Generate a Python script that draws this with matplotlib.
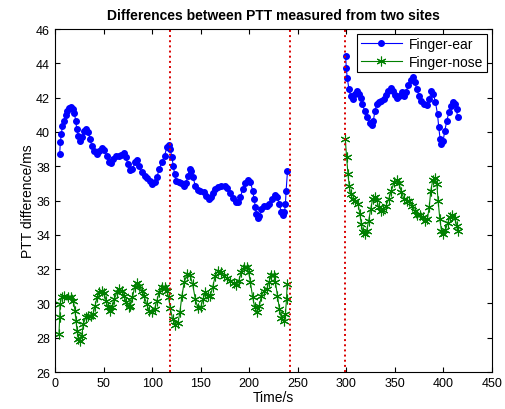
import numpy as np
import matplotlib
matplotlib.use('Agg')
import matplotlib.pyplot as plt

plt.rcParams['font.family'] = ['Liberation Sans', 'DejaVu Sans']

# Finger-ear, first recording (before the gap)
ear_t1 = [4.8, 5.5, 6.5, 7.6, 9.3, 11.0, 12.7, 14.8, 16.5, 18.2, 20.0, 21.3, 22.4, 24.0, 26.0,
          28.2, 30.3, 32.3, 34.4, 36.1, 37.8, 40.6, 43.0, 45.4, 48.2, 50.9, 53.3, 55.7, 57.8,
          60.2, 62.6, 65.4, 68.1, 70.9, 72.9, 75.0, 77.7, 79.8, 82.6, 84.6, 86.7, 89.4, 92.2,
          94.9, 97.7, 100.4, 102.5, 104.9, 107.3, 110.1, 112.8, 115.2, 117.0, 118.7, 120.4,
          121.8, 123.1, 124.5, 127.3, 130.0, 132.8, 134.8, 136.9, 138.6, 140.3, 142.1, 144.5,
          146.9, 149.6, 153.1, 155.5, 158.2, 160.6, 162.7, 165.1, 167.9, 171.3, 174.7, 177.5,
          180.6, 183.3, 186.4, 188.5, 190.9, 193.3, 196.1, 198.8, 201.2, 203.6, 205.0, 206.4,
          207.4, 208.8, 210.5, 212.6, 215.3, 218.4, 220.8, 223.6, 226.3, 228.7, 231.1, 232.9,
          234.6, 236.3, 237.3, 238.0, 239.4]
ear_v1 = [38.71, 39.39, 39.88, 40.32, 40.66, 41.00, 41.24, 41.39, 41.43, 41.34, 41.08, 40.66,
          40.17, 39.78, 39.49, 39.68, 40.07, 40.17, 39.97, 39.59, 39.20, 38.87, 38.71, 38.87,
          39.06, 38.94, 38.61, 38.23, 38.17, 38.42, 38.58, 38.61, 38.67, 38.75, 38.52, 38.13,
          37.78, 37.84, 38.23, 38.36, 38.03, 37.64, 37.45, 37.31, 37.12, 36.96, 37.06, 37.35,
          37.84, 38.23, 38.61, 39.10, 39.26, 39.00, 38.52, 38.03, 37.55, 37.16, 37.06, 37.02,
          36.87, 37.00, 37.45, 37.84, 37.74, 37.35, 36.87, 36.61, 36.54, 36.48, 36.28, 36.09,
          36.19, 36.42, 36.67, 36.81, 36.87, 36.87, 36.73, 36.42, 36.15, 35.90, 35.90, 36.19,
          36.67, 37.00, 37.20, 37.06, 36.58, 36.09, 35.60, 35.22, 34.98, 35.12, 35.51, 35.70,
          35.70, 35.80, 36.09, 36.34, 36.23, 35.80, 35.31, 35.18, 35.31, 35.80, 36.58, 37.70]

# Finger-ear, second recording
ear_t2 = [299.3, 300.0, 301.0, 302.7, 304.4, 306.5, 308.5, 310.6, 312.7, 314.7, 316.5, 318.9,
          321.6, 324.4, 326.1, 327.8, 329.5, 331.3, 333.7, 336.1, 338.8, 340.9, 343.0, 345.7,
          348.1, 350.2, 352.6, 354.6, 357.1, 359.5, 361.5, 363.9, 366.3, 368.4, 370.5, 372.5,
          375.0, 377.3, 380.1, 382.8, 385.3, 387.7, 389.7, 391.8, 393.9, 395.2, 396.6, 398.0,
          399.7, 401.4, 403.5, 405.6, 407.6, 409.7, 411.8, 413.5, 414.5]
ear_v2 = [44.40, 43.70, 43.12, 42.50, 42.10, 41.90, 42.20, 42.40, 42.20, 41.95, 41.62, 41.23,
          40.85, 40.52, 40.40, 40.65, 41.23, 41.62, 41.76, 41.82, 41.91, 42.15, 42.40, 42.54,
          42.40, 42.15, 41.95, 42.11, 42.34, 42.11, 42.34, 42.73, 43.05, 43.20, 42.89, 42.50,
          42.10, 41.82, 41.62, 41.56, 41.91, 42.40, 42.20, 41.72, 41.04, 40.26, 39.58, 39.29,
          39.48, 40.07, 40.65, 41.14, 41.53, 41.72, 41.62, 41.33, 40.85]

# Finger-nose, first recording
nose_t1 = [4.1, 4.8, 5.2, 6.9, 9.6, 13.1, 16.5, 18.9, 20.6, 21.7, 22.7, 24.1, 25.8, 27.5, 29.2,
           31.6, 34.4, 37.2, 39.2, 41.3, 43.3, 45.8, 48.2, 50.6, 52.6, 54.4, 56.8, 59.2, 61.2,
           63.6, 66.0, 68.8, 71.2, 73.3, 75.7, 77.7, 79.8, 81.9, 84.3, 86.7, 89.4, 91.8, 94.3,
           97.0, 99.8, 102.5, 104.9, 107.3, 110.1, 112.8, 115.2, 117.0, 118.7, 121.1, 123.8,
           126.6, 128.6, 130.7, 133.1, 135.9, 139.0, 141.7, 144.5, 147.2, 150.0, 152.4, 154.8,
           157.5, 159.9, 162.3, 165.1, 167.9, 170.6, 173.7, 177.1, 180.6, 184.0, 186.4, 189.2,
           191.9, 194.7, 197.4, 199.5, 201.2, 203.6, 205.7, 208.1, 210.5, 212.6, 215.3, 218.1,
           220.1, 222.9, 225.3, 227.0, 229.1, 231.1, 233.2, 235.6, 237.3, 238.4, 239.1]
nose_v1 = [28.22, 29.19, 29.96, 30.39, 30.45, 30.39, 30.35, 30.16, 29.58, 28.99, 28.41, 27.92,
           27.79, 28.12, 28.80, 29.19, 29.28, 29.28, 29.38, 29.87, 30.35, 30.64, 30.74, 30.59,
           30.16, 29.77, 29.58, 29.77, 30.26, 30.64, 30.84, 30.74, 30.45, 30.06, 29.81, 29.87,
           30.35, 30.94, 31.17, 31.03, 30.74, 30.45, 29.96, 29.58, 29.48, 29.67, 30.16, 30.64,
           30.94, 30.98, 30.74, 30.35, 29.72, 29.09, 28.74, 28.86, 29.48, 30.45, 31.23, 31.71,
           31.65, 31.13, 30.25, 29.71, 29.77, 30.25, 30.64, 30.45, 30.45, 30.93, 31.62, 31.91,
           31.85, 31.62, 31.46, 31.32, 31.19, 31.07, 31.32, 31.81, 32.10, 32.10, 31.81, 31.23,
           30.35, 29.77, 29.48, 29.87, 30.45, 30.74, 30.84, 31.23, 31.65, 31.65, 31.23, 30.45,
           29.67, 29.13, 28.99, 29.38, 30.25, 31.13]

# Finger-nose, second recording
nose_t2 = [298.9, 300.3, 301.7, 303.0, 304.4, 306.5, 309.2, 312.0, 314.1, 315.4, 317.1, 318.9,
           320.9, 323.0, 325.1, 327.1, 329.2, 331.3, 333.3, 335.4, 338.1, 340.9, 343.6, 346.4,
           349.1, 351.9, 354.3, 356.7, 359.5, 362.2, 365.0, 367.7, 370.5, 373.2, 376.0, 378.7,
           381.5, 383.5, 385.3, 387.0, 389.0, 391.5, 393.2, 394.5, 396.3, 398.0, 400.0, 402.1,
           404.2, 406.9, 409.3, 411.7, 413.8, 414.5]
nose_v2 = [39.59, 38.52, 37.54, 36.86, 36.38, 36.09, 35.95, 35.80, 35.21, 34.63, 34.14, 34.05,
           34.24, 34.82, 35.50, 36.09, 36.22, 36.03, 35.60, 35.37, 35.45, 35.70, 36.09, 36.57,
           37.06, 37.19, 37.00, 36.48, 36.09, 35.99, 35.95, 35.70, 35.37, 35.17, 35.17, 35.06,
           34.82, 34.92, 35.60, 36.57, 37.19, 37.31, 36.96, 35.99, 34.92, 34.24, 34.05, 34.28,
           34.67, 35.06, 35.17, 34.98, 34.53, 34.24]

# segment boundaries (s)
cuts = [118, 242, 299]

fig = plt.figure(figsize=(5.06, 4.10), dpi=100)
ax = fig.add_axes([0.1087, 0.0902, 0.8636, 0.8366])

blue = (0, 0, 1)
green = (0, 0.5, 0)
ax.plot(ear_t1, ear_v1, '-o', color=blue, ms=4, lw=0.8, label='Finger-ear')
ax.plot(ear_t2, ear_v2, '-o', color=blue, ms=4, lw=0.8)
ax.plot(nose_t1, nose_v1, '-', marker=(6, 2, 0), color=green, ms=7, mew=0.8, lw=0.8,
        label='Finger-nose')
ax.plot(nose_t2, nose_v2, '-', marker=(6, 2, 0), color=green, ms=7, mew=0.8, lw=0.8)

for c in cuts:
    ax.axvline(c, color=(0.85, 0, 0), ls=':', lw=1.4)

ax.set_xlim(0, 450)
ax.set_ylim(26, 46)
ax.set_xticks(np.arange(0, 451, 50))
ax.set_yticks(np.arange(26, 47, 2))
ax.tick_params(direction='in', top=True, right=True, length=3.5, labelsize=9)
for s in ax.spines.values():
    s.set_linewidth(0.8)

ax.set_xlabel('Time/s', fontsize=10, labelpad=1)
ax.set_ylabel('PTT difference/ms', fontsize=10, labelpad=1)
ax.set_title('Differences between PTT measured from two sites', fontsize=10,
             fontweight='bold', pad=7)

leg = ax.legend(loc='upper right', fontsize=10, fancybox=False, framealpha=1,
                edgecolor='black', borderaxespad=0.35, handlelength=3.0,
                borderpad=0.25, labelspacing=0.25, handletextpad=0.5)
leg.get_frame().set_linewidth(0.8)

fig.savefig('out.png', dpi=100)
